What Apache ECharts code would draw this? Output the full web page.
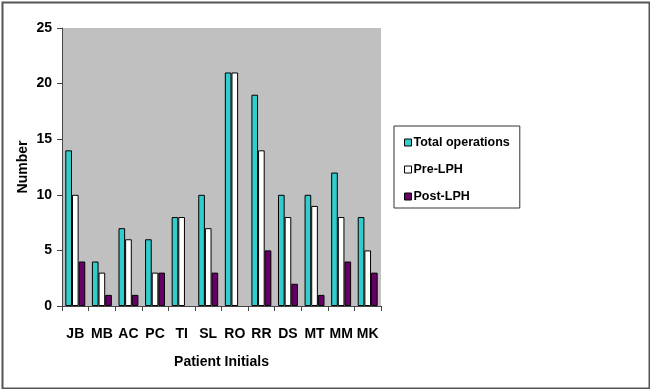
<!DOCTYPE html>
<html>
<head>
<meta charset="utf-8">
<script src="https://cdn.jsdelivr.net/npm/echarts@6/dist/echarts.min.js"></script>
<style>
html,body{margin:0;padding:0;background:#fff;}
#chart{width:650px;height:389px;}
</style>
</head>
<body>
<div id="chart"></div>
<script>
const categories = ['JB','MB','AC','PC','TI','SL','RO','RR','DS','MT','MM','MK'];
const totalOperations = [14,4,7,6,8,10,21,19,10,10,12,8];
const preLPH = [10,3,6,3,8,7,21,14,8,9,8,5];
const postLPH = [4,1,1,3,0,3,0,5,2,1,4,3];
const seriesNames = ['Total operations','Pre-LPH','Post-LPH'];
const seriesColors = ['#33CCCC','#FFFFFF','#660066'];

const font = 'Arial, "Liberation Sans", sans-serif';
const chart = echarts.init(document.getElementById('chart'), null, {renderer:'canvas'});
const dataSets = [totalOperations, preLPH, postLPH];
chart.setOption({
  animation:false,
  backgroundColor:'#fff',
  graphic:[{
    type:'rect', left:0, top:0, z:-1,
    shape:{x:1,y:1,width:647,height:386},
    style:{fill:'none', stroke:'#555', lineWidth:2}
  }],
  grid:{left:62, right:269, top:28, bottom:83, show:true, backgroundColor:'#C0C0C0', borderWidth:0},
  legend:{
    orient:'vertical', left:394, top:126,
    backgroundColor:'#fff', borderColor:'#333', borderWidth:1,
    padding:[10,10,5,10], itemGap:14, itemWidth:7, itemHeight:7,
    icon:'rect',
    itemStyle:{borderColor:'#000', borderWidth:1},
    textStyle:{fontFamily:font, fontWeight:'bold', fontSize:12.5, color:'#000', padding:[0,0,0,-3]},
    data:seriesNames
  },
  xAxis:{
    type:'category', data:categories,
    name:'Patient Initials', nameLocation:'middle', nameGap:49,
    nameTextStyle:{fontFamily:font, fontWeight:'bold', fontSize:14, color:'#000'},
    axisLine:{lineStyle:{color:'#444', width:1}},
    axisTick:{show:true, length:5, inside:false, alignWithLabel:false, lineStyle:{color:'#444'}},
    axisLabel:{fontFamily:font, fontWeight:'bold', fontSize:14, color:'#000', margin:21, interval:0},
    splitLine:{show:false}
  },
  yAxis:{
    type:'value', min:0, max:25, interval:5,
    name:'Number', nameLocation:'middle', nameGap:32, nameRotate:90,
    nameTextStyle:{fontFamily:font, fontWeight:'bold', fontSize:14, color:'#000'},
    axisLine:{show:true, lineStyle:{color:'#444', width:1}},
    axisTick:{show:true, length:5, inside:false, lineStyle:{color:'#444'}},
    axisLabel:{fontFamily:font, fontWeight:'bold', fontSize:14, color:'#000', margin:10},
    splitLine:{show:false}
  },
  series: seriesNames.map((n,i)=>({
    name:n, type:'bar',
    data:dataSets[i].map(v => v === 0 ? {value:v, itemStyle:{borderWidth:0}} : v),
    barGap:'0%', barCategoryGap:'25%',
    itemStyle:{color:seriesColors[i], borderColor:'#000', borderWidth:1}
  }))
});
</script>
</body>
</html>
